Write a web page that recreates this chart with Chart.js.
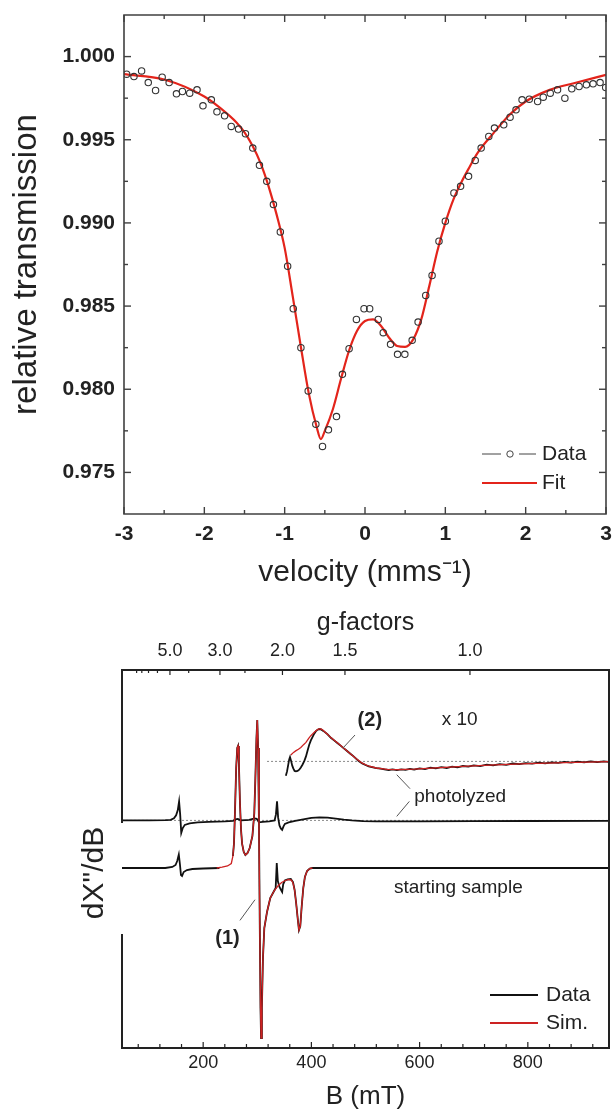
<!DOCTYPE html>
<html>
<head>
<meta charset="utf-8">
<script src="https://cdn.jsdelivr.net/npm/chart.js@4.4.1/dist/chart.umd.min.js"></script>
<style>
  html, body { margin: 0; padding: 0; background: #fff; }
  #wrap { position: relative; width: 614px; height: 1113px; overflow: hidden; }
  canvas { position: absolute; left: 0; }
  #mossbauer { top: 0; }
  #epr { top: 600px; }
</style>
</head>
<body>
<div id="wrap">
  <canvas id="mossbauer" width="614" height="600"></canvas>
  <canvas id="epr" width="614" height="513"></canvas>
</div>
<script>
// ---- Mossbauer spectrum (top) ----
const velocity = [
  -2.967, -2.876, -2.781, -2.698, -2.607, -2.525, -2.438, -2.347, -2.273, -2.182,
  -2.091, -2.017, -1.913, -1.843, -1.748, -1.665, -1.574, -1.488, -1.397, -1.314,
  -1.223, -1.140, -1.054, -0.963, -0.893, -0.798, -0.707, -0.612, -0.529, -0.455,
  -0.355, -0.281, -0.198, -0.107, -0.012, 0.058, 0.165, 0.227, 0.318, 0.405,
  0.496, 0.587, 0.661, 0.756, 0.835, 0.921, 1.000, 1.107, 1.190, 1.289,
  1.372, 1.446, 1.541, 1.612, 1.727, 1.806, 1.880, 1.955, 2.045, 2.149,
  2.219, 2.306, 2.397, 2.488, 2.574, 2.665, 2.756, 2.839, 2.926, 2.996
];
const transmission = [
  0.99894, 0.99880, 0.99914, 0.99844, 0.99796, 0.99876, 0.99844, 0.99776, 0.99790, 0.99780,
  0.99800, 0.99704, 0.99740, 0.99668, 0.99644, 0.99580, 0.99564, 0.99536, 0.99450, 0.99346,
  0.99250, 0.99110, 0.98946, 0.98740, 0.98484, 0.98250, 0.97990, 0.97790, 0.97656, 0.97756,
  0.97836, 0.98090, 0.98244, 0.98420, 0.98484, 0.98484, 0.98420, 0.98340, 0.98270, 0.98210,
  0.98210, 0.98294, 0.98404, 0.98564, 0.98684, 0.98890, 0.99010, 0.99180, 0.99220, 0.99280,
  0.99376, 0.99450, 0.99520, 0.99570, 0.99590, 0.99636, 0.99680, 0.99740, 0.99744, 0.99730,
  0.99756, 0.99780, 0.99800, 0.99750, 0.99806, 0.99820, 0.99830, 0.99836, 0.99844, 0.99814
];
const fitVelocity = [
  -3.0, -2.5, -2.0, -1.8, -1.6, -1.5, -1.4, -1.3, -1.2, -1.1,
  -1.0, -0.9, -0.8, -0.7, -0.6, -0.55, -0.5, -0.4, -0.3, -0.2,
  -0.1, 0.0, 0.1, 0.2, 0.3, 0.4, 0.5, 0.6, 0.7, 0.8,
  0.9, 1.0, 1.1, 1.2, 1.3, 1.4, 1.6, 1.8, 2.0, 2.3,
  2.6, 3.0
];
const fitTransmission = [
  0.99894, 0.99862, 0.99760, 0.99690, 0.99604, 0.99545, 0.99464, 0.99360, 0.99220, 0.99050,
  0.98850, 0.98560, 0.98260, 0.97975, 0.97770, 0.97700, 0.97750, 0.97880, 0.98060, 0.98230,
  0.98350, 0.98410, 0.98420, 0.98380, 0.98310, 0.98260, 0.98255, 0.98300, 0.98420, 0.98620,
  0.98830, 0.99000, 0.99140, 0.99245, 0.99335, 0.99420, 0.99540, 0.99650, 0.99730, 0.99800,
  0.99840, 0.99890
];
const velocityTicks = [-3, -2, -1, 0, 1, 2, 3];
const velocityMinorTicks = [-2.5, -1.5, -0.5, 0.5, 1.5, 2.5];
const transmissionTicks = [0.975, 0.980, 0.985, 0.990, 0.995, 1.000];
const transmissionMinorTicks = [0.9775, 0.9825, 0.9875, 0.9925, 0.9975];

// ---- EPR spectra (bottom) ----
const startField = [
  50, 100, 130, 143, 149, 152, 155, 157, 159, 161,
  164, 170, 180, 200, 230, 240, 255, 257, 259, 261,
  263, 264.5, 266, 268, 270, 272, 275, 278, 282, 286,
  291, 294.5, 296.5, 298.5, 300, 301.5, 303, 304.5, 306, 307,
  308.5, 310.5, 313, 318, 324, 331, 334, 336, 338, 341,
  344, 346, 348, 351, 356, 362, 366, 369, 372, 375,
  377, 379.5, 382, 385, 388, 392, 397, 402, 500, 700,
  950
];
const startSignal = [
  0, 0, 0, 0.1, 0.3, 0.7, 1.35, 0.4, -0.7, -0.8,
  -0.4, -0.2, -0.1, -0.05, 0, null, 1.2, 2.5, 6, 10,
  12.0, 12.2, 10.5, 6.5, 3.8, 2.4, 1.6, 1.3, 1.5, 2.0,
  3.2, 5.5, 9, 13, 14.8, 12, 5, -5, -14, -17.0,
  -14, -9, -6, -4.4, -3.0, -2.3, -2.0, 0.5, -1.3, -1.9,
  -2.2, -2.4, -1.6, -1.25, -1.15, -1.1, -1.4, -2.2, -3.6, -5.2,
  -6.2, -5.8, -3.9, -2.0, -0.9, -0.3, -0.05, 0, 0, 0,
  0
];
const startSimField = [
  225, 235, 245, 252, 255, 257, 259, 261, 263, 264.5,
  266, 268, 270, 272, 275, 278, 282, 286, 291, 294.5,
  296.5, 298.5, 300, 301.5, 303, 304.5, 306, 307, 308.5, 310.5,
  313, 318, 324, 331, 338, 345, 352, 358, 363, 366,
  369, 372, 375, 377, 379.5, 382, 385, 388, 392, 397,
  402
];
const startSimSignal = [
  0, 0.08, 0.2, 0.45, 1.2, 2.5, 6, 10, 12.0, 12.2,
  10.5, 6.5, 3.8, 2.4, 1.6, 1.3, 1.5, 2.0, 3.2, 5.5,
  9, 13, 14.8, 12, 5, -5, -14, -17.0, -14, -9,
  -6, -4.4, -3.0, -2.3, -1.8, -1.45, -1.25, -1.15, -1.2, -1.5,
  -2.2, -3.6, -5.2, -6.2, -5.8, -3.9, -2.0, -0.9, -0.3, -0.05,
  0
];
const photoField = [
  50, 100, 130, 140, 146, 150, 153, 155.5, 157.5, 159.5,
  162, 166, 175, 190, 210, 240, 255, 260, 264, 270,
  285, 295, 299, 303, 310, 322, 332, 334.5, 336.5, 338.5,
  341, 343.5, 346, 348.5, 351, 358, 370, 385, 400, 415,
  430, 445, 460, 475, 495, 520, 600, 700, 800, 950
];
const photoSignal = [
  0, 0, 0.02, 0.05, 0.2, 0.5, 1.0, 1.9, 0.6, -1.25,
  -0.8, -0.45, -0.3, -0.2, -0.15, -0.1, -0.05, 0.1, 0.15, 0,
  0.05, 0.2, 0.15, -0.2, -0.15, -0.1, 0, 0.6, 1.9, 0.3,
  -0.5, -0.8, -0.95, -0.6, -0.35, -0.2, -0.05, 0.1, 0.25, 0.3,
  0.27, 0.18, 0.08, 0, -0.08, -0.1, -0.1, -0.08, -0.06, -0.05
];
const x10Field = [
  352.8, 355, 357, 359, 360.5, 362.5, 364.5, 366.5, 369, 371.5,
  374.5, 377.5, 380.5, 383.5, 387, 390, 393, 396, 399, 402,
  405, 408, 411, 414.5, 418, 422, 425, 430, 436, 442,
  448, 454, 460, 466, 472, 478, 483, 488, 494, 500,
  506, 512, 520, 528, 535, 543, 550, 558, 566, 574,
  582, 590, 600, 610, 620, 630, 640, 650, 660, 670,
  680, 690, 700, 712, 724, 736, 748, 760, 772, 784,
  796, 808, 820, 832, 844, 856, 868, 880, 892, 904,
  916, 928, 940, 950
];
const x10Signal = [
  -1.43, -1.0, -0.4, 0.2, 0.44, 0.05, -0.4, -0.7, -0.95, -1.0,
  -0.95, -0.83, -0.6, -0.33, 0.05, 0.5, 1.1, 1.67, 2.1, 2.43,
  2.75, 3.0, 3.15, 3.24, 3.2, 3.05, 2.93, 2.7, 2.36, 2.1,
  1.84, 1.58, 1.3, 1.04, 0.76, 0.5, 0.25, 0.02, -0.2, -0.36,
  -0.5, -0.58, -0.68, -0.72, -0.8, -0.86, -0.79, -0.88, -0.8, -0.85,
  -0.74, -0.82, -0.7, -0.77, -0.63, -0.7, -0.58, -0.66, -0.52, -0.59,
  -0.46, -0.53, -0.4, -0.47, -0.33, -0.4, -0.27, -0.34, -0.21, -0.28,
  -0.17, -0.23, -0.12, -0.19, -0.09, -0.15, -0.05, -0.12, -0.03, -0.09,
  0, -0.07, 0.01, -0.04
];
const x10SimField = [
  362, 367, 371, 376, 380.5, 385, 390, 395, 399, 404,
  408, 412, 416, 420, 425, 430, 436, 448, 460, 472,
  483, 494, 505, 520, 540, 560, 590, 630, 680, 740,
  800, 870, 950
];
const x10SimSignal = [
  0.64, 0.9, 1.05, 1.22, 1.4, 1.65, 1.9, 2.3, 2.57, 2.85,
  3.05, 3.2, 3.27, 3.18, 2.95, 2.7, 2.38, 1.86, 1.32, 0.77,
  0.27, -0.18, -0.46, -0.66, -0.8, -0.83, -0.77, -0.64, -0.49, -0.34,
  -0.22, -0.12, -0.03
];
const x10BaseField = [318, 950];
const fullBaseField = [50, 950];
const fieldTicks = [200, 400, 600, 800];
const fieldMinorTicks = [80, 120, 160, 240, 280, 320, 360, 440, 480, 520, 560, 640, 680, 720, 760, 840, 880, 920];
const gTicks = [5.0, 3.0, 2.0, 1.5, 1.0];
const gMinorTicks = [9, 8, 7, 6, 4, 2.5];
const mwFreqGHz = 9.7;

const FONT = '"Liberation Sans", Arial, Helvetica, sans-serif';
Chart.defaults.font.family = FONT;
Chart.defaults.color = '#222';

// vertical offsets of the stacked EPR traces
const offsets = { start: 0, photo: 4.76, x10: 10.66 };

const pts = (xs, ys, off = 0) => xs.map((x, i) => ({ x: x, y: ys[i] === null ? null : ys[i] + off }));
const gToField = g => 71.448 * mwFreqGHz / g;

// frame + inward tick marks on the chart area
function framePlugin(spec) {
  return {
    id: 'frame' + spec.name,
    afterDatasetsDraw(chart) {
      const { ctx, chartArea: a, scales } = chart;
      ctx.save();
      ctx.strokeStyle = spec.color;
      ctx.lineWidth = spec.width;
      ctx.lineCap = 'square';
      ctx.beginPath();
      ctx.moveTo(a.left, a.top);
      ctx.lineTo(a.right, a.top);
      ctx.lineTo(a.right, a.bottom);
      ctx.lineTo(a.left, a.bottom);
      if (spec.leftGap) {
        ctx.lineTo(a.left, scales.y.getPixelForValue(spec.leftGap[0]));
        ctx.moveTo(a.left, scales.y.getPixelForValue(spec.leftGap[1]));
      }
      ctx.lineTo(a.left, a.top);
      ctx.stroke();

      ctx.lineWidth = spec.tickWidth;
      ctx.lineCap = 'butt';
      spec.marks.forEach(m => {
        const s = scales[m.scale];
        m.values.forEach(v => {
          const p = s.getPixelForValue(v);
          m.sides.forEach(side => {
            ctx.beginPath();
            if (side === 'bottom') { ctx.moveTo(p, a.bottom); ctx.lineTo(p, a.bottom - m.len); }
            if (side === 'top') { ctx.moveTo(p, a.top); ctx.lineTo(p, a.top + m.len); }
            if (side === 'left') { ctx.moveTo(a.left, p); ctx.lineTo(a.left + m.len, p); }
            if (side === 'right') { ctx.moveTo(a.right, p); ctx.lineTo(a.right - m.len, p); }
            ctx.stroke();
          });
        });
      });
      ctx.restore();
    }
  };
}

const mossLegend = {
  id: 'mossLegend',
  afterDraw(chart) {
    const { ctx, chartArea: a } = chart;
    const yData = a.bottom - 60, yFit = a.bottom - 31;
    ctx.save();
    ctx.strokeStyle = '#444';
    ctx.lineWidth = 1;
    ctx.beginPath();
    ctx.moveTo(a.right - 124, yData); ctx.lineTo(a.right - 105, yData);
    ctx.moveTo(a.right - 87, yData); ctx.lineTo(a.right - 70, yData);
    ctx.stroke();
    ctx.beginPath();
    ctx.arc(a.right - 96, yData, 3.2, 0, Math.PI * 2);
    ctx.stroke();
    ctx.strokeStyle = '#e3241b';
    ctx.lineWidth = 2.2;
    ctx.beginPath();
    ctx.moveTo(a.right - 124, yFit); ctx.lineTo(a.right - 69, yFit);
    ctx.stroke();
    ctx.fillStyle = '#222';
    ctx.font = '21px ' + FONT;
    ctx.textBaseline = 'middle';
    ctx.fillText('Data', a.right - 64, yData);
    ctx.fillText('Fit', a.right - 64, yFit);
    ctx.restore();
  }
};

new Chart(document.getElementById('mossbauer'), {
  type: 'scatter',
  data: {
    datasets: [
      {
        label: 'Data',
        data: pts(velocity, transmission),
        pointRadius: 3.2,
        pointBorderWidth: 1.1,
        pointBorderColor: '#333',
        pointBackgroundColor: 'rgba(255,255,255,0)',
        order: 1
      },
      {
        label: 'Fit',
        data: pts(fitVelocity, fitTransmission),
        showLine: true,
        borderColor: '#e3241b',
        borderWidth: 2.2,
        pointRadius: 0,
        cubicInterpolationMode: 'monotone',
        order: 2
      }
    ]
  },
  options: {
    responsive: false,
    animation: false,
    layout: { padding: { left: 0, top: 15, right: 8, bottom: 0 } },
    plugins: { legend: { display: false }, tooltip: { enabled: false } },
    scales: {
      x: {
        type: 'linear', min: -3, max: 3,
        grid: { display: false, drawTicks: false },
        border: { display: false },
        afterBuildTicks: s => { s.ticks = velocityTicks.map(v => ({ value: v })); },
        ticks: { font: { size: 21, weight: 'bold' }, color: '#222', padding: 8, maxRotation: 0, autoSkip: false,
                 callback: v => String(v) },
        title: { display: true, text: 'velocity (mms⁻¹)', font: { size: 30 }, color: '#222', padding: { top: 0, bottom: 9 } },
        afterFit: s => { s.height = 86; s.paddingLeft = 0; s.paddingRight = 0; }
      },
      y: {
        type: 'linear', min: 0.9725, max: 1.0025,
        grid: { display: false, drawTicks: false },
        border: { display: false },
        afterBuildTicks: s => { s.ticks = transmissionTicks.map(v => ({ value: v })); },
        ticks: { font: { size: 21, weight: 'bold' }, color: '#222', padding: 9, autoSkip: false,
                 callback: v => v.toFixed(3) },
        title: { display: true, text: 'relative transmission', font: { size: 33 }, color: '#222', padding: { top: 7, bottom: 0 } },
        afterFit: s => { s.width = 124; s.paddingTop = 0; s.paddingBottom = 0; }
      }
    }
  },
  plugins: [
    framePlugin({
      name: 'Moss', color: '#404040', width: 1.6, tickWidth: 1.4,
      marks: [
        { scale: 'x', values: velocityTicks, sides: ['bottom', 'top'], len: 7 },
        { scale: 'x', values: velocityMinorTicks, sides: ['bottom', 'top'], len: 4 },
        { scale: 'y', values: transmissionTicks, sides: ['left', 'right'], len: 7 },
        { scale: 'y', values: transmissionMinorTicks, sides: ['left', 'right'], len: 4 }
      ]
    }),
    mossLegend
  ]
});

// ---- EPR chart ----
const eprNotes = [
  { text: '(2)', at: [508, 14.8], bold: true },
  { text: 'x 10', at: [674, 14.8] },
  { text: 'photolyzed', at: [675, 7.15] },
  { text: 'starting sample', at: [671.5, -1.97] },
  { text: '(1)', at: [245, -7.0], bold: true }
];
const eprLeaders = [
  [[480.6, 13.3], [458.4, 12.0]],
  [[582.3, 7.93], [557.7, 9.33]],
  [[581, 6.66], [557.7, 5.16]],
  [[268, -5.24], [295.8, -3.17]]
];

const eprDecor = {
  id: 'eprDecor',
  afterDraw(chart) {
    const { ctx, chartArea: a, scales } = chart;
    const X = v => scales.x.getPixelForValue(v), Y = v => scales.y.getPixelForValue(v);
    ctx.save();
    ctx.strokeStyle = '#555';
    ctx.lineWidth = 1;
    eprLeaders.forEach(([p, q]) => {
      ctx.beginPath(); ctx.moveTo(X(p[0]), Y(p[1])); ctx.lineTo(X(q[0]), Y(q[1])); ctx.stroke();
    });
    ctx.fillStyle = '#222';
    ctx.textAlign = 'center';
    ctx.textBaseline = 'middle';
    eprNotes.forEach(n => {
      ctx.font = (n.bold ? 'bold 20px ' : '19px ') + FONT;
      ctx.fillText(n.text, X(n.at[0]), Y(n.at[1]));
    });

    // legend
    const rows = [{ text: 'Data', color: '#111', y: a.bottom - 53 }, { text: 'Sim.', color: '#cc2222', y: a.bottom - 25 }];
    ctx.textAlign = 'left';
    ctx.font = '21px ' + FONT;
    rows.forEach(r => {
      ctx.strokeStyle = r.color;
      ctx.lineWidth = 2;
      ctx.beginPath(); ctx.moveTo(a.right - 119, r.y); ctx.lineTo(a.right - 71, r.y); ctx.stroke();
      ctx.fillStyle = '#222';
      ctx.fillText(r.text, a.right - 63, r.y);
    });

    // y axis title
    ctx.translate(a.left - 27, a.top + 203);
    ctx.rotate(-Math.PI / 2);
    ctx.textAlign = 'center';
    ctx.font = '30px ' + FONT;
    ctx.fillText('dX"/dB', 0, 0);
    ctx.restore();
  }
};

const lineDs = (label, data, color, width, order) => ({
  label, data, showLine: true, borderColor: color, borderWidth: width,
  pointRadius: 0, tension: 0, spanGaps: false, order
});
const baseDs = (data) => ({
  label: 'baseline', data, showLine: true, borderColor: '#8a8a8a', borderWidth: 1,
  borderDash: [2, 2], pointRadius: 0, order: 5
});

new Chart(document.getElementById('epr'), {
  type: 'scatter',
  data: {
    datasets: [
      lineDs('Sim. x10', pts(x10SimField, x10SimSignal, offsets.x10), '#cc2222', 1.3, 1),
      lineDs('Sim. starting', pts(startSimField, startSimSignal, offsets.start), '#cc2222', 1.3, 1),
      lineDs('Data x10', pts(x10Field, x10Signal, offsets.x10), '#111', 1.8, 2),
      lineDs('Data photolyzed', pts(photoField, photoSignal, offsets.photo), '#111', 1.8, 2),
      lineDs('Data starting', pts(startField, startSignal, offsets.start), '#111', 1.8, 2),
      baseDs(pts(x10BaseField, [0, 0], offsets.x10)),
      baseDs(pts(fullBaseField, [0, 0], offsets.photo))
    ]
  },
  options: {
    responsive: false,
    animation: false,
    layout: { padding: { left: 122, top: 0, right: 5, bottom: 0 } },
    plugins: { legend: { display: false }, tooltip: { enabled: false } },
    scales: {
      x: {
        type: 'linear', position: 'bottom', min: 50, max: 950,
        grid: { display: false, drawTicks: false },
        border: { display: false },
        afterBuildTicks: s => { s.ticks = fieldTicks.map(v => ({ value: v })); },
        ticks: { font: { size: 18 }, color: '#222', padding: 4, maxRotation: 0, autoSkip: false },
        title: { display: true, text: 'B (mT)', font: { size: 26 }, color: '#222', padding: { top: 0, bottom: 1 } },
        afterFit: s => { s.height = 65; s.paddingLeft = 0; s.paddingRight = 0; }
      },
      xg: {
        type: 'linear', axis: 'x', position: 'top', min: 50, max: 950,
        grid: { display: false, drawTicks: false },
        border: { display: false },
        afterBuildTicks: s => { s.ticks = gTicks.map(g => ({ value: gToField(g) })); },
        ticks: { font: { size: 18 }, color: '#222', padding: 8, maxRotation: 0, autoSkip: false,
                 callback: (v, i) => gTicks[i].toFixed(1) },
        title: { display: true, text: 'g-factors', font: { size: 25 }, color: '#222', padding: { top: 8, bottom: 0 } },
        afterFit: s => { s.height = 70; s.paddingLeft = 0; s.paddingRight = 0; }
      },
      y: {
        type: 'linear', min: -18.0, max: 19.8, display: false
      }
    }
  },
  plugins: [
    framePlugin({
      name: 'Epr', color: '#222', width: 2, tickWidth: 1.2, leftGap: [-6.7, 4.6],
      marks: [
        { scale: 'x', values: fieldTicks, sides: ['bottom'], len: 6 },
        { scale: 'x', values: fieldMinorTicks, sides: ['bottom'], len: 4 },
        { scale: 'xg', values: gTicks.map(gToField), sides: ['top'], len: 5 },
        { scale: 'xg', values: gMinorTicks.map(gToField), sides: ['top'], len: 3 }
      ]
    }),
    eprDecor
  ]
});
</script>
</body>
</html>
